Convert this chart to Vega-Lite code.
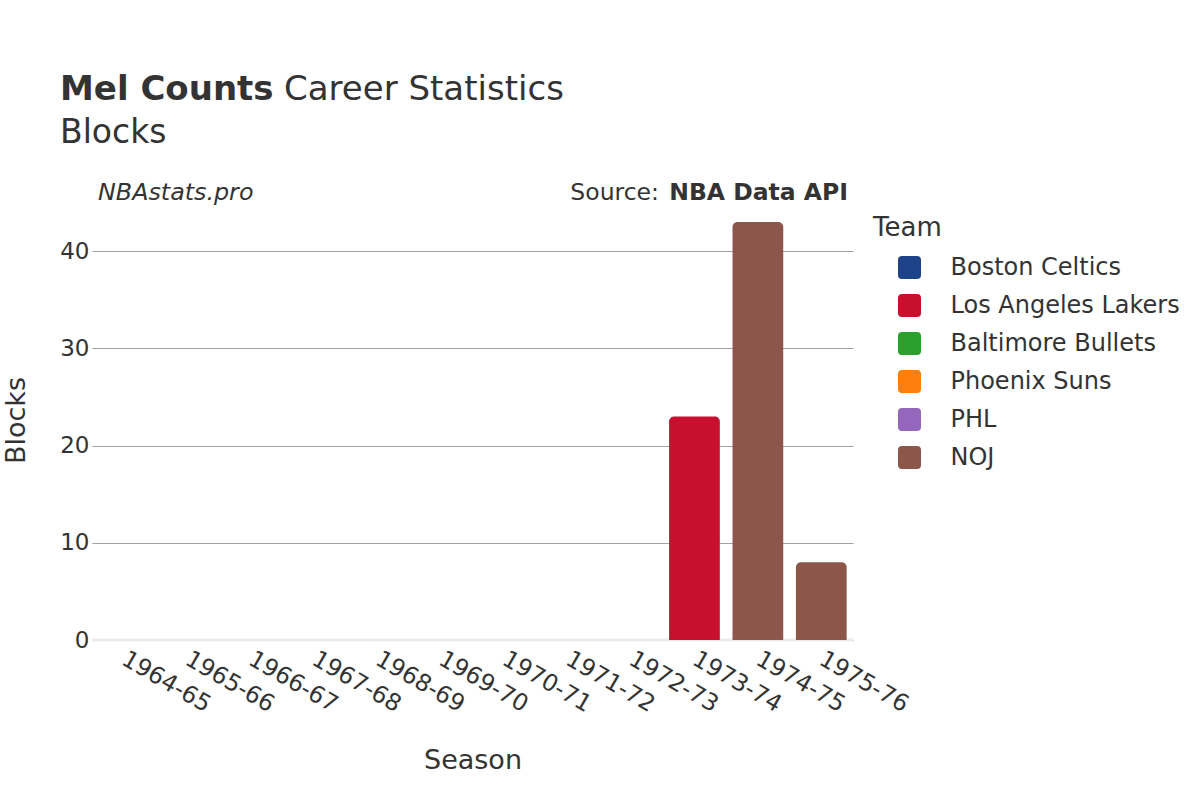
{
  "$schema": "https://vega.github.io/schema/vega-lite/v6.json",
  "width": 761,
  "height": 440,
  "autosize": {"type": "none"},
  "padding": {"left": 92, "top": 200, "right": 347, "bottom": 160},
  "background": "white",
  "config": {
    "view": {"stroke": null},
    "font": "DejaVu Sans"
  },
  "layer": [
    {
      "data": {"values": [{}]},
      "mark": {"type": "rule", "color": "#ebebeb", "strokeWidth": 3},
      "encoding": {"y": {"datum": 0, "type": "quantitative"}}
    },
    {
      "data": {
        "values": [
          {"Season": "1964-65", "Team": "Boston Celtics", "Blocks": 0},
          {"Season": "1965-66", "Team": "Boston Celtics", "Blocks": 0},
          {"Season": "1966-67", "Team": "Baltimore Bullets", "Blocks": 0},
          {"Season": "1967-68", "Team": "Los Angeles Lakers", "Blocks": 0},
          {"Season": "1968-69", "Team": "Los Angeles Lakers", "Blocks": 0},
          {"Season": "1969-70", "Team": "Los Angeles Lakers", "Blocks": 0},
          {"Season": "1970-71", "Team": "Phoenix Suns", "Blocks": 0},
          {"Season": "1971-72", "Team": "Phoenix Suns", "Blocks": 0},
          {"Season": "1972-73", "Team": "Phoenix Suns", "Blocks": 0},
          {"Season": "1972-73", "Team": "PHL", "Blocks": 0},
          {"Season": "1973-74", "Team": "Los Angeles Lakers", "Blocks": 23},
          {"Season": "1974-75", "Team": "NOJ", "Blocks": 43},
          {"Season": "1975-76", "Team": "NOJ", "Blocks": 8}
        ]
      },
      "mark": {"type": "bar", "cornerRadiusTopLeft": 5, "cornerRadiusTopRight": 5},
      "encoding": {
        "x": {
          "field": "Season",
          "type": "nominal",
          "sort": null,
          "scale": {"paddingInner": 0.2, "paddingOuter": 0.1},
          "axis": {
            "title": "Season",
            "domain": false,
            "ticks": false,
            "labelAngle": 30,
            "labelAlign": "left",
            "labelBaseline": "middle",
            "labelPadding": 17,
            "labelFontSize": 23.5,
            "labelColor": "#333333",
            "titleFontSize": 27,
            "titleFontWeight": "normal",
            "titleColor": "#333333",
            "titleY": 128,
            "titleBaseline": "alphabetic"
          }
        },
        "y": {
          "field": "Blocks",
          "type": "quantitative",
          "stack": null,
          "scale": {"domain": [0, 45.26], "nice": false},
          "axis": {
            "title": "Blocks",
            "values": [0, 10, 20, 30, 40],
            "domain": false,
            "ticks": false,
            "grid": true,
            "gridColor": "#a0a0a0",
            "gridWidth": 1,
            "labelFontSize": 23,
            "labelColor": "#333333",
            "labelPadding": 3,
            "titleFontSize": 27,
            "titleFontWeight": "normal",
            "titleColor": "#333333",
            "titleAngle": -90,
            "titleX": -76,
            "titleY": 220,
            "titleAlign": "center",
            "titleBaseline": "middle"
          }
        },
        "color": {
          "field": "Team",
          "type": "nominal",
          "scale": {
            "domain": ["Boston Celtics", "Los Angeles Lakers", "Baltimore Bullets", "Phoenix Suns", "PHL", "NOJ"],
            "range": ["#1d428a", "#c8102e", "#2ca02c", "#ff7f0e", "#9467bd", "#8c564b"]
          },
          "legend": {
            "title": "Team",
            "orient": "none",
            "legendX": 781,
            "legendY": 14.5,
            "padding": 0,
            "titleFontSize": 26,
            "titleFontWeight": "normal",
            "titleColor": "#333333",
            "titlePadding": 15,
            "labelFontSize": 24,
            "labelColor": "#333333",
            "labelLimit": 400,
            "symbolType": "M -0.65 -1 L 0.65 -1 Q 1 -1 1 -0.65 L 1 0.65 Q 1 1 0.65 1 L -0.65 1 Q -1 1 -1 0.65 L -1 -0.65 Q -1 -1 -0.65 -1 Z",
            "symbolSize": 529,
            "symbolStrokeWidth": 0,
            "symbolOpacity": 1,
            "symbolOffset": 24.5,
            "labelOffset": 29,
            "rowPadding": 14
          }
        }
      }
    },
    {
      "data": {"values": [{}]},
      "mark": {"type": "text", "text": "Mel Counts", "x": -32, "y": -100, "align": "left", "baseline": "alphabetic", "fontSize": 34, "fontWeight": "bold", "color": "#333333"}
    },
    {
      "data": {"values": [{}]},
      "mark": {"type": "text", "text": "Career Statistics", "x": 192, "y": -100, "align": "left", "baseline": "alphabetic", "fontSize": 34, "color": "#333333"}
    },
    {
      "data": {"values": [{}]},
      "mark": {"type": "text", "text": "Blocks", "x": -32, "y": -57, "align": "left", "baseline": "alphabetic", "fontSize": 33, "color": "#333333"}
    },
    {
      "data": {"values": [{}]},
      "mark": {"type": "text", "text": "NBAstats.pro", "x": 6, "y": 0, "align": "left", "baseline": "alphabetic", "fontSize": 23.8, "fontStyle": "italic", "color": "#333333"}
    },
    {
      "data": {"values": [{}]},
      "mark": {"type": "text", "text": "Source:", "x": 567, "y": 0, "align": "right", "baseline": "alphabetic", "fontSize": 23.5, "color": "#333333"}
    },
    {
      "data": {"values": [{}]},
      "mark": {"type": "text", "text": "NBA Data API", "x": 756, "y": 0, "align": "right", "baseline": "alphabetic", "fontSize": 23.5, "fontWeight": "bold", "color": "#333333"}
    }
  ]
}
